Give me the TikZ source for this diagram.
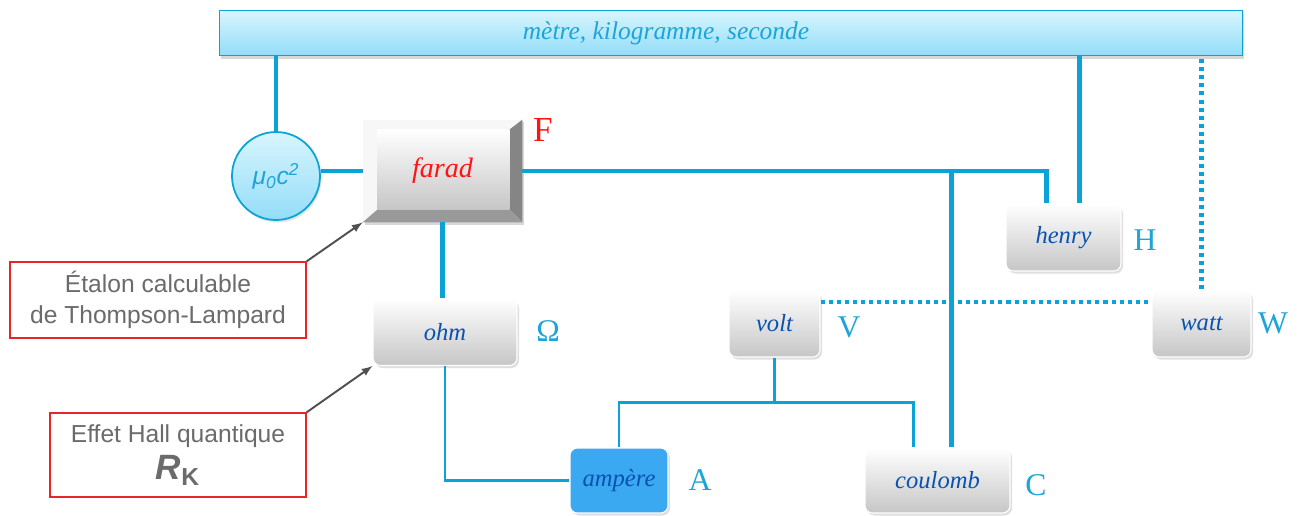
\documentclass[tikz,border=0pt]{standalone}
\usepackage{fontspec}
\setmainfont{Liberation Serif}
\setsansfont{Liberation Sans}
\usepackage{xcolor}
\usetikzlibrary{calc,shadows,arrows,positioning,backgrounds}
\definecolor{lineblue}{HTML}{0AA3D8}
\definecolor{labelblue}{HTML}{1DA4D8}
\definecolor{unitblue}{HTML}{0A52B0}
\definecolor{boxgray}{HTML}{C6C6C6}
\definecolor{barlight}{HTML}{D8F5FD}
\definecolor{bardark}{HTML}{93DDF8}
\definecolor{ampblue}{HTML}{3BA8F2}
\definecolor{notered}{HTML}{E8252A}
\definecolor{notegray}{HTML}{6B6B6B}
\definecolor{arrowgray}{HTML}{505050}
\definecolor{farred}{HTML}{FF1414}

\begin{document}
\begin{tikzpicture}[
  unit/.style={rounded corners=0.15cm, top color=white, bottom color=boxgray, draw=white, line width=0.6pt,
    drop shadow={opacity=0.25,shadow xshift=0.04cm,shadow yshift=-0.05cm},
    minimum height=1.34cm, inner sep=0pt, text=unitblue, font=\fontsize{14}{16}\selectfont\itshape},
  sym/.style={text=labelblue, font=\fontsize{18}{20}\selectfont},
  strong/.style={draw=lineblue, line width=2.3pt},
  weak/.style={draw=lineblue, line width=1.2pt},
  dots/.style={draw=lineblue, line width=2.3pt, dash pattern=on 2.3pt off 2.3pt},
  note/.style={draw=notered, line width=0.9pt, fill=white, inner sep=0pt, align=center,
    text=notegray, font=\sffamily\fontsize{14}{18}\selectfont},
  pointer/.style={-latex, draw=arrowgray, line width=1.1pt}
]
\useasboundingbox (0,0) rectangle (26,-10.3);
\node[draw=lineblue, line width=1pt, top color=barlight, bottom color=bardark, minimum width=20.46cm, minimum height=0.9cm,
  drop shadow={opacity=0.3,shadow xshift=0.03cm,shadow yshift=-0.06cm}] (base) at (14.62,-0.66) {};
\node[text=labelblue, font=\fontsize{14.5}{16}\selectfont\itshape] (baselabel) at (13.32,-0.66) {mètre, kilogramme, seconde};

\node[circle, draw=lineblue, line width=1pt, top color=barlight, bottom color=bardark, minimum size=1.76cm, inner sep=0pt,
  drop shadow={opacity=0.2,shadow xshift=0.03cm,shadow yshift=-0.05cm},
  text=labelblue, font=\sffamily\fontsize{14}{16}\selectfont\itshape] (mu) at (5.52,-3.52) {μ\textsubscript{0}c\textsuperscript{2}};

\node[minimum width=3.18cm, minimum height=2.04cm, inner sep=0pt, text=farred, font=\fontsize{16}{18}\selectfont\itshape] (farad) at (8.85,-3.42) {farad};
\begin{scope}[on background layer]
\fill[white] (0,0) rectangle (26,-10.3);
\fill[black!3, drop shadow={opacity=0.3,shadow xshift=0.04cm,shadow yshift=-0.05cm}] (farad.north west) rectangle (farad.south east);
\fill[black!48] (farad.north east) -- (farad.south east) -- ($(farad.south east)+(-0.26,0.26)$) -- ($(farad.north east)+(-0.26,-0.2)$) -- cycle;
\fill[black!40] (farad.south west) -- (farad.south east) -- ($(farad.south east)+(-0.26,0.26)$) -- ($(farad.south west)+(0.3,0.26)$) -- cycle;
\shade[top color=white, bottom color=boxgray] ($(farad.north west)+(0.3,-0.2)$) rectangle ($(farad.south east)+(-0.26,0.26)$);
\end{scope}

\node[unit, minimum width=2.88cm] (ohm) at (8.9,-6.64) {ohm};
\node[unit, minimum width=2.3cm] (henry) at (21.27,-4.75) {henry};
\node[unit, minimum width=1.82cm] (volt) at (15.49,-6.47) {volt};
\node[unit, minimum width=1.98cm] (watt) at (24.03,-6.47) {watt};
\node[unit, minimum width=1.96cm, minimum height=1.3cm, fill=ampblue, top color=ampblue, bottom color=ampblue] (ampere) at (12.38,-9.61) {ampère};
\node[unit, minimum width=2.9cm, minimum height=1.3cm] (coulomb) at (18.75,-9.61) {coulomb};

\node[text=farred, font=\fontsize{20}{22}\selectfont] (symF) at (10.86,-2.6) {F};
\node[sym] (symH) at (22.9,-4.8) {H};
\node[sym] (symO) at (10.96,-6.62) {Ω};
\node[sym] (symV) at (16.98,-6.54) {V};
\node[sym] (symW) at (25.46,-6.46) {W};
\node[sym] (symA) at (14.0,-9.6) {A};
\node[sym] (symC) at (20.72,-9.7) {C};

\node[note, minimum width=5.92cm, minimum height=1.52cm] (etalon) at (3.16,-6.0) {Étalon calculable\\de Thompson-Lampard};
\node[note, minimum width=5.12cm, minimum height=1.68cm] (hall) at (3.56,-9.1) {Effet Hall quantique\\[3pt]{\fontsize{20}{20}\selectfont\bfseries\itshape R\textsubscript{\upshape K}}};

\draw[strong] (mu.north) -- (mu.north |- base.south);
\draw[strong] (farad.west -| mu.east) -- (farad.west);
\draw[strong] (farad.east) -| ([xshift=-0.34cm]henry.north);
\draw[strong] ([xshift=0.32cm]henry.north) -- ([xshift=0.32cm]henry.north |- base.south);
\draw[strong] ([xshift=0.28cm]coulomb.north) -- ([xshift=0.28cm]coulomb.north |- farad.east);
\draw[strong] (farad.south) -- (farad.south |- ohm.north);
\draw[weak] (ohm.south) |- (ampere.west);
\coordinate (vjoin) at ($(volt.south)+(0,-0.9)$);
\draw[weak] (volt.south) -- (vjoin);
\draw[weak] (ampere.north) |- (vjoin) -| ([xshift=-0.48cm]coulomb.north);
\draw[dots] ([yshift=0.43cm]volt.east) -- ([yshift=0.43cm]volt.east -| watt.west);
\draw[dots] (watt.north) -- (watt.north |- base.south);
\draw[pointer] (etalon.north east) -- (farad.south west);
\draw[pointer] (hall.north east) -- (ohm.south west);
\end{tikzpicture}
\end{document}
